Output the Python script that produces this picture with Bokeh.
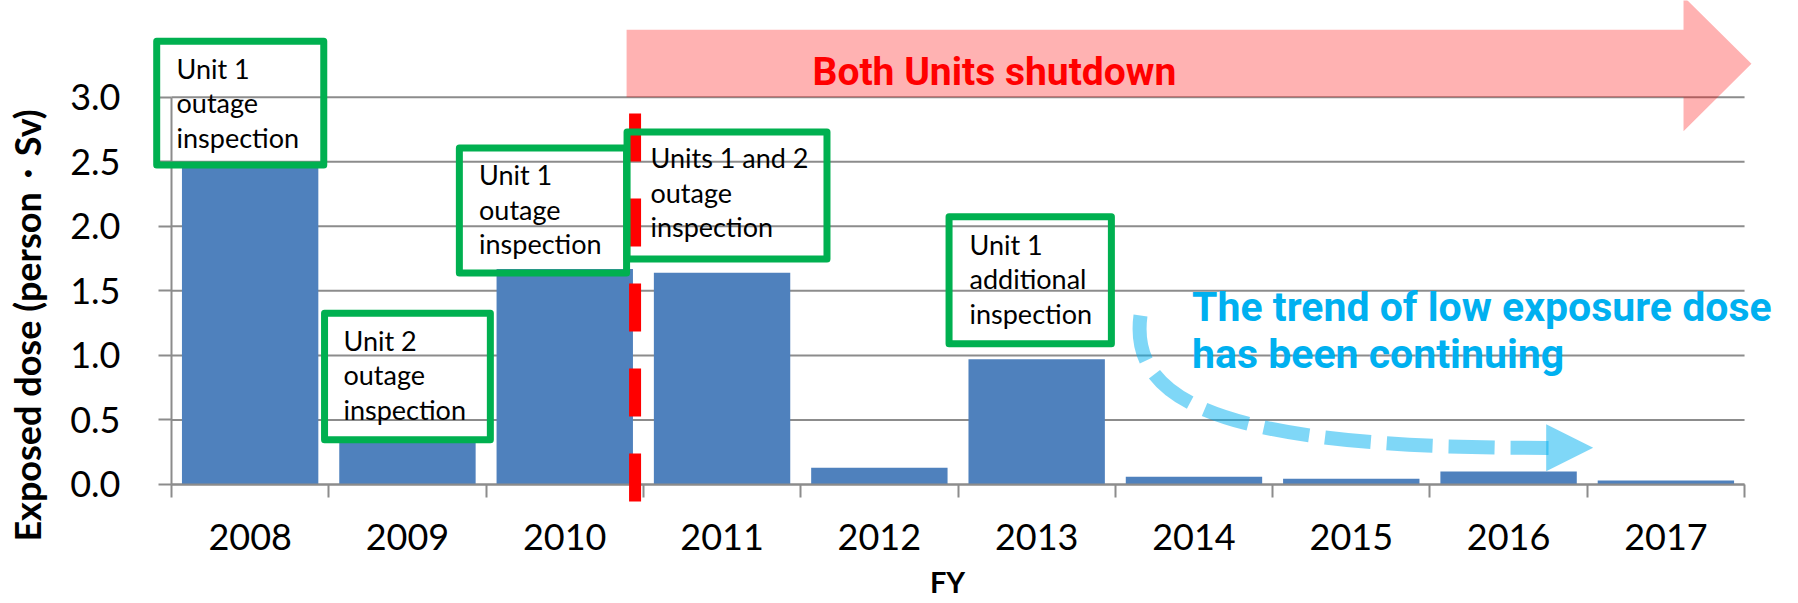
import math
from bokeh.plotting import figure
from bokeh.models import (Range1d, FixedTicker, NumeralTickFormatter, CustomJSTickFormatter,
                          BoxAnnotation, Label, Arrow, NormalHead, PolyAnnotation)
from bokeh.embed import file_html
from bokeh.resources import INLINE

# ---------------- data ----------------
years = ["2008", "2009", "2010", "2011", "2012", "2013", "2014", "2015", "2016", "2017"]
dose = [2.47, 0.33, 1.67, 1.64, 0.13, 0.97, 0.06, 0.045, 0.10, 0.03]
y_ticks = [0.0, 0.5, 1.0, 1.5, 2.0, 2.5, 3.0]
y_title = "Exposed dose (person・Sv)"
x_title = "FY"
shutdown_text = "Both Units shutdown"
trend_lines = ["The trend of low exposure dose", "has been continuing"]
callout_lines = [
    ["Unit 1", "outage", "inspection"],
    ["Unit 2", "outage", "inspection"],
    ["Unit 1", "outage", "inspection"],
    ["Units 1 and 2", "outage", "inspection"],
    ["Unit 1", "additional", "inspection"],
]
# callout boxes: (left, right, bottom, top) in axis units
callout_boxes = [
    (-0.094, 0.968, 2.475, 3.433),
    (0.973, 2.027, 0.347, 1.326),
    (1.830, 2.893, 1.638, 2.607),
    (2.896, 4.167, 1.747, 2.730),
    (4.943, 5.975, 1.091, 2.074),
]
# text anchor (left x, first baseline y)
callout_text_pos = [(0.032, 3.143), (1.093, 1.038), (1.955, 2.320), (3.045, 2.453), (5.073, 1.782)]

BAR = "#4F81BD"
GRAY = "#8C8C8C"
GREEN = "#00B050"
RED = "#FF0000"
CYAN = "#00B0F0"

W, H = 1798, 603
X0, X1 = -1.087, 10.343
Y0, Y1 = -0.922, 3.749
PX = (Y1 - Y0) / H  # axis units per pixel (vertical)


def base(y, size):
    """baseline correction for Bokeh's alphabetic anchoring"""
    return y + 0.38 * size * PX


n = len(years)
centers = [i + 0.5 for i in range(n)]
bounds_x = list(range(n + 1))

p = figure(x_range=Range1d(X0, X1), y_range=Range1d(Y0, Y1), width=W, height=H,
           output_backend="svg", toolbar_location=None,
           min_border=0, min_border_left=0, min_border_right=0,
           min_border_top=0, min_border_bottom=0)
p.outline_line_color = None
p.background_fill_color = "white"
p.xgrid.visible = False
p.ygrid.visible = False

# gridlines (limited to the category span)
p.segment(x0=[bounds_x[0]] * len(y_ticks), x1=[bounds_x[-1]] * len(y_ticks),
          y0=y_ticks, y1=y_ticks, line_color=GRAY, line_width=2, level="underlay")

p.vbar(x=centers, top=dose, width=0.867, fill_color=BAR, line_color=None)

# axes, fixed at the data origin
xa = p.xaxis[0]
xa.fixed_location = 0
xa.bounds = (bounds_x[0], bounds_x[-1])
xa.ticker = FixedTicker(ticks=centers, minor_ticks=bounds_x)
xa.formatter = CustomJSTickFormatter(args=dict(labels=years),
                                     code="return labels[Math.round(tick - 0.5)]")
xa.axis_line_color = GRAY
xa.axis_line_width = 2
xa.major_tick_line_color = None
xa.major_tick_out = 0
xa.major_tick_in = 0
xa.minor_tick_line_color = GRAY
xa.minor_tick_line_width = 2
xa.minor_tick_out = 13
xa.minor_tick_in = 0
xa.major_label_standoff = 27
xa.major_label_text_font = "Lato"
xa.major_label_text_font_size = "36px"
xa.major_label_text_color = "black"

ya = p.yaxis[0]
ya.fixed_location = 0
ya.ticker = FixedTicker(ticks=y_ticks, minor_ticks=[])
ya.formatter = NumeralTickFormatter(format="0.0")
ya.bounds = (y_ticks[0], y_ticks[-1])
ya.axis_line_color = GRAY
ya.axis_line_width = 2
ya.major_tick_line_color = GRAY
ya.major_tick_line_width = 2
ya.major_tick_out = 13
ya.major_tick_in = 0
ya.minor_tick_line_color = None
ya.major_label_standoff = 38
ya.major_label_text_font = "Lato"
ya.major_label_text_font_size = "36px"
ya.major_label_text_color = "black"

# red dashed divider
p.add_layout(Arrow(end=None, x_start=2.947, y_start=2.874, x_end=2.947, y_end=-0.14,
                   line_color=RED, line_width=12, line_dash="48 37"))

# pink "shutdown" arrow
p.add_layout(PolyAnnotation(xs=[2.893, 9.612, 9.612, 10.044, 9.612, 9.612, 2.893],
                            ys=[3.522, 3.522, 3.780, 3.259, 2.737, 3.0, 3.0],
                            fill_color=RED, fill_alpha=0.3, line_color=None))
p.add_layout(Label(x=4.075, y=base(3.077, 39), text=shutdown_text, text_color=RED,
                   text_font="Roboto", text_font_style="bold",
                   text_font_size="39px", text_baseline="alphabetic"))

# callout boxes
for (l, r, b, t), lines, (tx, ty) in zip(callout_boxes, callout_lines, callout_text_pos):
    p.add_layout(BoxAnnotation(left=l, right=r, bottom=b, top=t, fill_alpha=0,
                               line_color=GREEN, line_alpha=1.0, line_width=7,
                               line_join="round", editable=False))
    for k, s in enumerate(lines):
        p.add_layout(Label(x=tx, y=base(ty - k * 34.5 * PX, 27), text=s, text_font="Lato",
                           text_font_size="27px", text_color="black",
                           text_baseline="alphabetic", text_align="left"))

# blue dashed trend arrow
p.bezier(x0=[6.160], y0=[1.309], x1=[8.754], y1=[0.283], cx0=[6.084], cy0=[0.612],
         cx1=[6.732], cy1=[0.279], line_color=CYAN, line_alpha=0.5, line_width=14,
         line_dash="46 16")
p.add_layout(Arrow(end=NormalHead(size=47, fill_color=CYAN, fill_alpha=0.5, line_color=None),
                   x_start=8.6, y_start=0.285, x_end=9.038, y_end=0.285, line_alpha=0))
for k, s in enumerate(trend_lines):
    p.add_layout(Label(x=6.488, y=base(1.257 - k * 47 * PX, 41), text=s, text_color=CYAN,
                       text_font="Roboto", text_font_style="bold",
                       text_font_size="41px", text_baseline="alphabetic"))

# axis titles
p.add_layout(Label(x=-0.917, y=1.232, text=y_title, angle=math.pi / 2, text_align="center",
                   text_baseline="middle", text_font="Lato", text_font_style="bold",
                   text_font_size="36px", text_color="black"))
p.add_layout(Label(x=4.933, y=base(-0.837, 29), text=x_title, text_align="center",
                   text_baseline="alphabetic", text_font="Lato", text_font_style="bold",
                   text_font_size="29px", text_color="black"))

open("out.html", "w").write(file_html(p, INLINE))
